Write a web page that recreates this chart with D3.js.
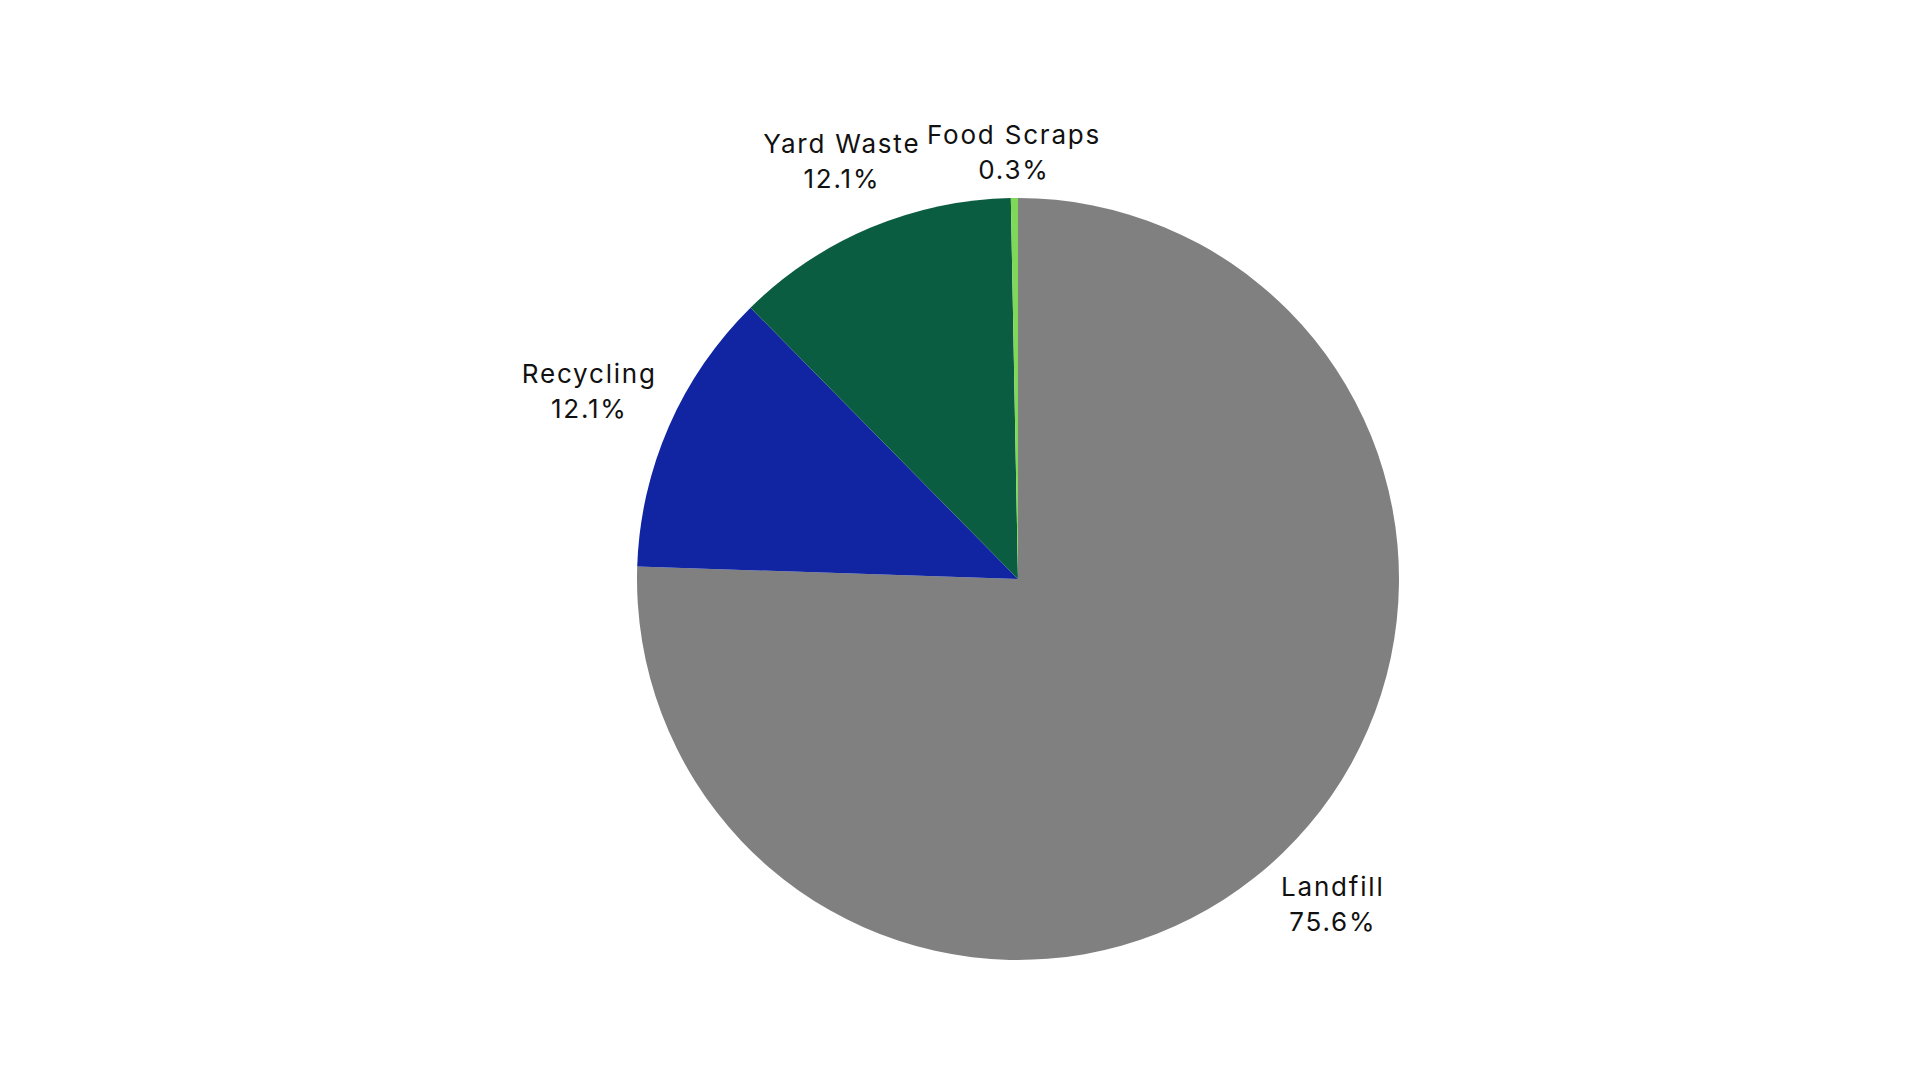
<!DOCTYPE html>
<html>
<head>
<meta charset="utf-8">
<script src="https://cdn.jsdelivr.net/npm/d3@7"></script>
<style>
  body { margin: 0; background: #fff; }
  svg text { font-family: Inter, "Noto Sans", sans-serif; fill: #111; }
</style>
</head>
<body>
<svg id="chart"></svg>
<script>
// data
var categories = ["Landfill", "Recycling", "Yard Waste", "Food Scraps"];
var shares = [75.6, 12.1, 12.1, 0.3];
var colors = ["#808080", "#1125a3", "#0b5d42", "#7fd858"];

var width = 1920, height = 1080,
    cx = 1018, cy = 579, radius = 381,
    pad = 12;

var svg = d3.select("#chart")
    .attr("width", width)
    .attr("height", height);

var g = svg.append("g")
    .attr("transform", "translate(" + cx + "," + cy + ")");

var data = categories.map(function (c, i) { return { name: c, value: shares[i], color: colors[i] }; });

var pie = d3.pie().sort(null).value(function (d) { return d.value; });
var arc = d3.arc().innerRadius(0).outerRadius(radius);
var arcs = pie(data);

g.selectAll("path.slice")
    .data(arcs)
    .enter()
    .append("path")
    .attr("class", "slice")
    .attr("d", arc)
    .style("fill", function (d) { return d.data.color; });

// labels outside: box centre on the mid-angle ray, pushed out until it clears the rim
var fmt = d3.format(".1f");
var labels = g.selectAll("g.lbl")
    .data(arcs)
    .enter()
    .append("g")
    .attr("class", "lbl");

labels.each(function (d) {
    var t = d3.select(this).append("text")
        .attr("text-anchor", "middle")
        .style("font-size", "26px")
        .style("letter-spacing", "1.8px");
    t.append("tspan").attr("x", 0).attr("dy", 0).text(d.data.name);
    t.append("tspan").attr("x", 0).attr("dy", "1.34em").text(fmt(d.data.value) + "%");

    var bb = this.getBBox();
    var a = (d.startAngle + d.endAngle) / 2;
    var dx = Math.sin(a), dy = -Math.cos(a);
    var dist = radius + pad + Math.abs(dx) * bb.width / 2 + Math.abs(dy) * bb.height / 2;
    var ox = dist * dx - (bb.x + bb.width / 2);
    var oy = dist * dy - (bb.y + bb.height / 2);
    d3.select(this).attr("transform", "translate(" + ox + "," + oy + ")");
});
</script>
</body>
</html>
